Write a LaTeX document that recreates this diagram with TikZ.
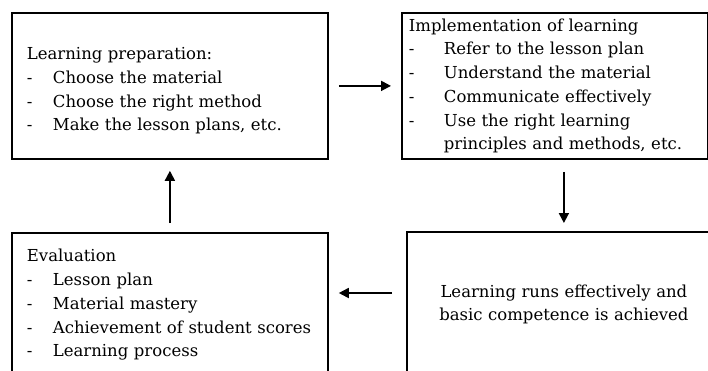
\documentclass[tikz,border=0pt]{standalone}
\usepackage{fontspec}
\setmainfont{DejaVu Serif}
\usetikzlibrary{arrows.meta}
\newcommand{\itm}[2]{\mbox{\makebox[#1][l]{-}#2}}
\begin{document}
\begin{tikzpicture}[x=1pt,y=-1pt,
  box/.style={draw, line width=1.8pt, inner ysep=0pt, anchor=north west,
    font=\fontsize{16.5}{23.7}\selectfont},
  arr/.style={-{Triangle[length=10pt,width=10pt]}, line width=1.8pt}]
\useasboundingbox (0,0) rectangle (708,370);
\clip (0,0) rectangle (708,370);

\node[box, align=left, inner xsep=15pt, text width=286pt, minimum height=146pt] (b1) at (11,12)
  {\rule{0pt}{22pt}Learning preparation:\\
   \itm{26pt}{Choose the material}\\
   \itm{26pt}{Choose the right method}\\
   \itm{26pt}{Make the lesson plans, etc.}};

\node[box, align=left, inner xsep=7pt, text width=292pt, minimum height=146pt] (b2) at (401,12)
  {Implementation of learning\\
   \itm{35pt}{Refer to the lesson plan}\\
   \itm{35pt}{Understand the material}\\
   \itm{35pt}{Communicate effectively}\\
   \itm{35pt}{Use the right learning}\\
   \hspace*{35pt}principles and methods, etc.};

\node[box, align=left, inner xsep=15pt, text width=286pt, minimum height=144pt] (b3) at (11,232)
  {Evaluation\\
   \itm{26pt}{Lesson plan}\\
   \itm{26pt}{Material mastery}\\
   \itm{26pt}{Achievement of student scores}\\
   \itm{26pt}{Learning process}};

\node[box, align=center, inner xsep=7pt, text width=300pt, minimum height=145pt] (b4) at (406,231)
  {Learning runs effectively and\\basic competence is achieved};

\coordinate (m) at (0,293);
\draw[arr, shorten <=10pt, shorten >=10pt] (b1.east) -- (b2.west);
\draw[arr, shorten <=12pt, shorten >=8pt] (b4.north |- b2.south) -- (b4.north);
\draw[arr, shorten <=14pt, shorten >=10pt] (b4.west |- m) -- (b3.east |- m);
\draw[arr, shorten <=9pt, shorten >=11pt] (b3.north) -- (b1.south);
\end{tikzpicture}
\end{document}
